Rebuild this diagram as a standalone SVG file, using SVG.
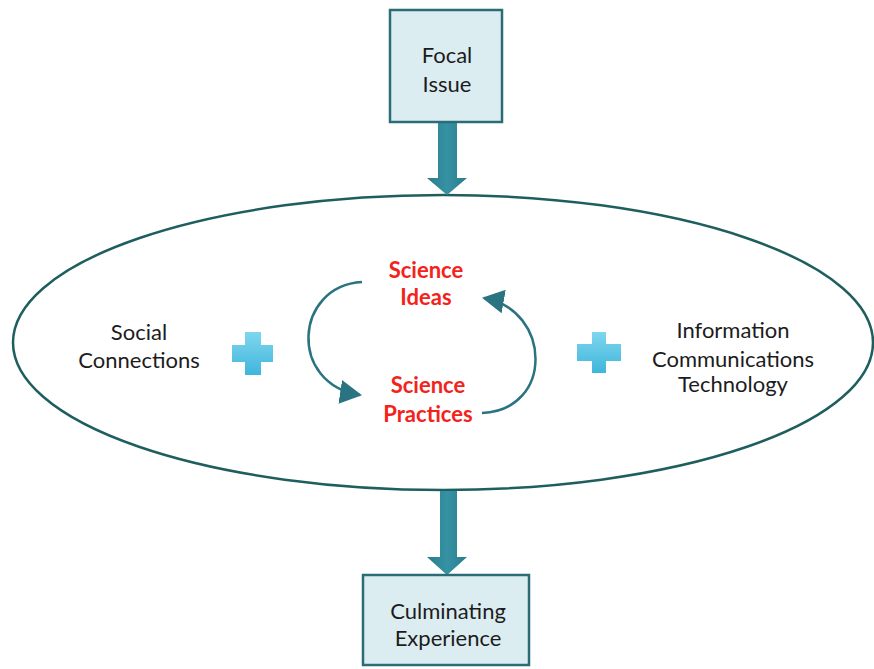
<svg xmlns="http://www.w3.org/2000/svg" width="874" height="669" viewBox="0 0 874 669">
  <defs>
    <linearGradient id="plusGrad" x1="0" y1="0" x2="0" y2="1">
      <stop offset="0" stop-color="#7fd6ee"/>
      <stop offset="1" stop-color="#3fb6dc"/>
    </linearGradient>
    <linearGradient id="arrowGrad" x1="0" y1="0" x2="1" y2="0">
      <stop offset="0" stop-color="#2a7d8d"/>
      <stop offset="0.5" stop-color="#3592a3"/>
      <stop offset="1" stop-color="#2a7d8d"/>
    </linearGradient>
    <marker id="bighead" markerWidth="22" markerHeight="24" refX="20" refY="12" orient="auto" markerUnits="userSpaceOnUse" viewBox="0 0 22 24">
      <path d="M0,0 L22,12 L0,24 Z" fill="#2a7380"/>
    </marker>
  </defs>
  <style>
    .box { fill: #dcedf2; stroke: #2b6d76; stroke-width: 2.5; }
    .lbl { font-family: Lato, "Liberation Sans", sans-serif; font-size: 22px; fill: #1c1c1c; text-anchor: middle; }
    .red { font-family: Lato, "Liberation Sans", sans-serif; font-size: 22px; font-weight: bold; fill: #f2231b; text-anchor: middle; }
    .fat { fill: url(#arrowGrad); }
    .cyc { fill: none; stroke: #2a7380; stroke-width: 2.5; }
    .plus { fill: url(#plusGrad); }
  </style>
  <rect width="874" height="669" fill="#ffffff"/>

  <g id="scope">
    <ellipse cx="443" cy="342.5" rx="430" ry="147.5" fill="#ffffff" stroke="#1f5e5e" stroke-width="2.5"/>
  </g>

  <g id="connectors">
    <path class="fat" d="M438,122 L457,122 L457,178 L467,178 L447,195 L427,178 L438,178 Z"/>
    <path class="fat" d="M440,491 L457,491 L457,557 L467,557 L447,575 L427,557 L440,557 Z"/>
    <path class="cyc" d="M362,282 C294,286 288,384 360,395" marker-end="url(#bighead)"/>
    <path class="cyc" d="M482,413 C554,410 552,310 484,298" marker-end="url(#bighead)"/>
  </g>

  <g id="focal-issue">
    <rect class="box" x="390" y="10" width="112" height="112"/>
    <text class="lbl" x="447" y="63">Focal</text>
    <text class="lbl" x="447" y="92">Issue</text>
  </g>

  <g id="culminating-experience">
    <rect class="box" x="363" y="575" width="166" height="90"/>
    <text class="lbl" x="448" y="619">Culminating</text>
    <text class="lbl" x="448" y="646">Experience</text>
  </g>

  <g id="social-connections">
    <text class="lbl" x="139" y="340">Social</text>
    <text class="lbl" x="139" y="368">Connections</text>
  </g>

  <g id="plus-left">
    <path class="plus" d="M245,332 L261,332 L261,345 L273,345 L273,362 L261,362 L261,375 L245,375 L245,362 L232,362 L232,345 L245,345 Z"/>
  </g>

  <g id="science-ideas">
    <text class="red" x="426" y="278">Science</text>
    <text class="red" x="426" y="305">Ideas</text>
  </g>

  <g id="science-practices">
    <text class="red" x="428" y="393">Science</text>
    <text class="red" x="428" y="422">Practices</text>
  </g>

  <g id="plus-right">
    <path class="plus" d="M592,332 L606,332 L606,344 L621,344 L621,361 L606,361 L606,373 L592,373 L592,361 L577,361 L577,344 L592,344 Z"/>
  </g>

  <g id="ict">
    <text class="lbl" x="733" y="338">Information</text>
    <text class="lbl" x="733" y="367">Communications</text>
    <text class="lbl" x="733" y="392">Technology</text>
  </g>
</svg>
